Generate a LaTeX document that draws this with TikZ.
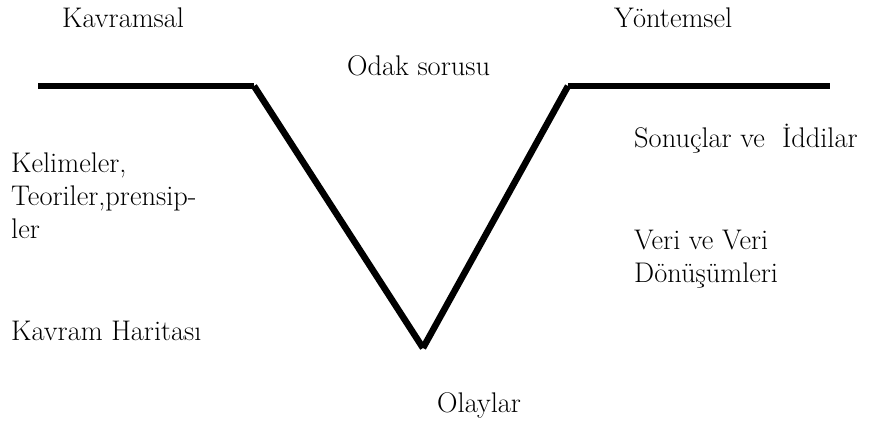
\documentclass[tikz,border=0pt]{standalone}
\usepackage{fontspec}
\begin{document}
\begin{tikzpicture}[x=1pt,y=-1pt,
  lbl/.style={anchor=base west,inner sep=0pt,font=\rmfamily\fontsize{28.4}{33}\selectfont,align=left},
  vline/.style={line width=6.5pt,line cap=butt,draw=black}]
\useasboundingbox (0,0) rectangle (871,426);
\coordinate (l0) at (38,86);
\coordinate (l1) at (254,86);
\coordinate (vb) at (423,348);
\coordinate (r1) at (568,86);
\coordinate (r0) at (830,86);
\draw[vline] (l0) -- (l1);
\draw[vline] (l1) -- (vb);
\draw[vline] (vb) -- (r1);
\draw[vline] (r1) -- (r0);
\node[lbl] (kav) at (62,27) {Kavramsal};
\node[lbl] (yon) at (614,27) {Yöntemsel};
\node[lbl] (odak) at (347,75) {Odak sorusu};
\node[lbl] (son) at (634,147) {Sonuçlar ve\ \ İddilar};
\node[lbl] (kel) at (11,238) {Kelimeler,\\Teoriler,prensip-\\ler};
\node[lbl] (har) at (11,340) {Kavram Haritası};
\node[lbl] (veri) at (634,282) {Veri ve Veri\\Dönüşümleri};
\node[lbl] (ola) at (437,412) {Olaylar};
\end{tikzpicture}
\end{document}
